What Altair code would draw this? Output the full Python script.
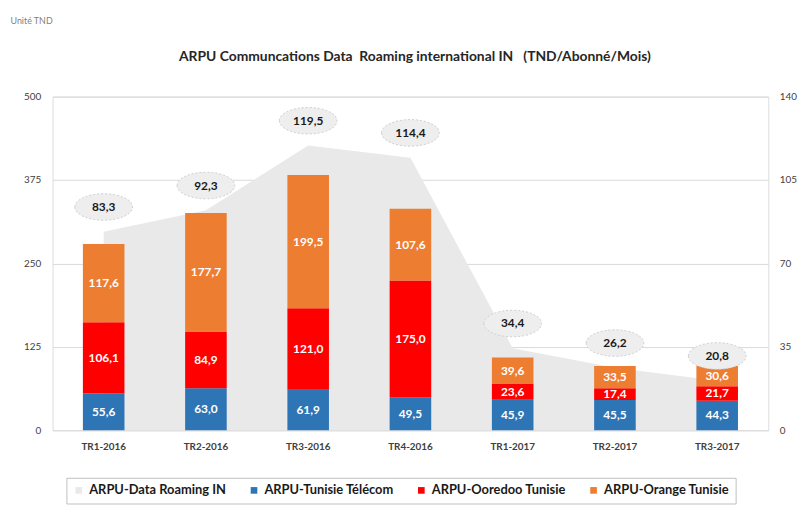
import altair as alt
import pandas as pd

quarters = ["TR1-2016", "TR2-2016", "TR3-2016", "TR4-2016", "TR1-2017", "TR2-2017", "TR3-2017"]
tunisie_telecom = [55.6, 63.0, 61.9, 49.5, 45.9, 45.5, 44.3]
ooredoo = [106.1, 84.9, 121.0, 175.0, 23.6, 17.4, 21.7]
orange = [117.6, 177.7, 199.5, 107.6, 39.6, 33.5, 30.6]
roaming = [83.3, 92.3, 119.5, 114.4, 34.4, 26.2, 20.8]

series = ["ARPU-Data Roaming IN", "ARPU-Tunisie Télécom", "ARPU-Ooredoo Tunisie", "ARPU-Orange Tunisie"]
colors = ["#E9E9E9", "#2E75B6", "#FF0000", "#ED7D31"]
left_ticks = [0, 125, 250, 375, 500]
right_ticks = [0, 35, 70, 105, 140]
title_text = ["ARPU Communcations Data\u00a0 Roaming international IN\u00a0\u00a0 (TND/Abonné/Mois)"]

FONT = "Lato"


def fmt(v):
    return f"{v:.1f}".replace(".", ",")


rows = []
for i, q in enumerate(quarters):
    base = 0.0
    for rank, (name, vals) in enumerate(zip(series[1:], [tunisie_telecom, ooredoo, orange])):
        v = vals[i]
        rows.append({"quarter": q, "series": name, "value": v, "rank": rank,
                     "mid": base + v / 2, "lbl": fmt(v)})
        base += v
df_bars = pd.DataFrame(rows)

df_area = pd.DataFrame({"quarter": quarters, "roaming": roaming,
                        "series": series[0], "lbl": [fmt(v) for v in roaming]})

X = alt.X("quarter:N", sort=quarters, title=None,
          scale=alt.Scale(paddingInner=0, paddingOuter=0),
          axis=alt.Axis(labelAngle=0, ticks=False, domain=False, labelPadding=11,
                        labelFont=FONT, labelFontSize=10, labelFontWeight="bold",
                        labelColor="#404040"))

color = alt.Color("series:N", scale=alt.Scale(domain=series, range=colors),
                  legend=alt.Legend(title=None, orient="none", legendX=14, legendY=385,
                                    direction="horizontal", symbolType="square",
                                    symbolSize=45, symbolStrokeWidth=0,
                                    labelFont=FONT, labelFontSize=13, labelFontWeight="bold",
                                    labelColor="#1a1a1a", columnPadding=21, labelOffset=4,
                                    strokeColor="#BFBFBF", padding=6, fillColor="white"))

area = alt.Chart(df_area).mark_area(opacity=1).encode(
    x=X,
    y=alt.Y("roaming:Q", scale=alt.Scale(domain=[0, 140]),
            axis=alt.Axis(orient="right", values=right_ticks, title=None, grid=False,
                          ticks=False, domain=False, labelPadding=11,
                          labelFont=FONT, labelFontSize=10, labelColor="#404040")),
    color=color,
)

left_axis = alt.Axis(orient="left", values=left_ticks, title="Unité TND", titleAngle=0,
                     titleX=-43, titleY=-77, titleAlign="left", titleBaseline="middle",
                     titleFont=FONT, titleFontSize=9, titleFontWeight="normal",
                     titleColor="#7F7F7F", grid=True, gridColor="#D9D9D9",
                     ticks=False, domain=False, labelPadding=12,
                     labelFont=FONT, labelFontSize=10, labelColor="#404040")

bars = alt.Chart(df_bars).mark_bar(size=42).encode(
    x=X,
    y=alt.Y("value:Q", stack="zero", scale=alt.Scale(domain=[0, 500]), axis=left_axis),
    color=color,
    order=alt.Order("rank:Q"),
)
bar_text = alt.Chart(df_bars).mark_text(font=FONT, fontSize=12, fontWeight="bold",
                                        color="white").encode(
    x=X,
    y=alt.Y("mid:Q", scale=alt.Scale(domain=[0, 500]), title="Unité TND"),
    text="lbl:N",
)
bar_layer = alt.layer(bars, bar_text)

ELLIPSE = "M -1 0 A 1 0.46 0 1 0 1 0 A 1 0.46 0 1 0 -1 0 Z"
ellipses = alt.Chart(df_area).mark_point(shape=ELLIPSE, size=3400, filled=True,
                                         fill="#EEEEEE", stroke="#CFCFCF", strokeWidth=1,
                                         strokeDash=[2, 2], opacity=1, yOffset=-25).encode(
    x=X,
    y=alt.Y("roaming:Q", scale=alt.Scale(domain=[0, 140]), axis=None),
)
ell_text = alt.Chart(df_area).mark_text(font=FONT, fontSize=12, fontWeight="bold",
                                        color="#1a1a1a", dy=-25).encode(
    x=X,
    y=alt.Y("roaming:Q", scale=alt.Scale(domain=[0, 140]), axis=None),
    text="lbl:N",
)
ell_layer = alt.layer(ellipses, ell_text)

title_mark = alt.Chart(pd.DataFrame({"t": title_text})).mark_text(
    font=FONT, fontSize=14, fontWeight="bold", color="#262626", align="center",
    baseline="middle").encode(x=alt.value(366), y=alt.value(-40), text="t:N")

chart = alt.layer(area, bar_layer, ell_layer, title_mark).resolve_scale(y="independent").properties(
    width=723, height=337,
    padding={"left": 45, "top": 87, "right": 31, "bottom": 75},
    autosize=alt.AutoSizeParams(type="none"),
).configure_view(stroke="#BFBFBF").configure(background="white")

chart.save("out.html", embed_options={"renderer": "svg", "actions": False})
